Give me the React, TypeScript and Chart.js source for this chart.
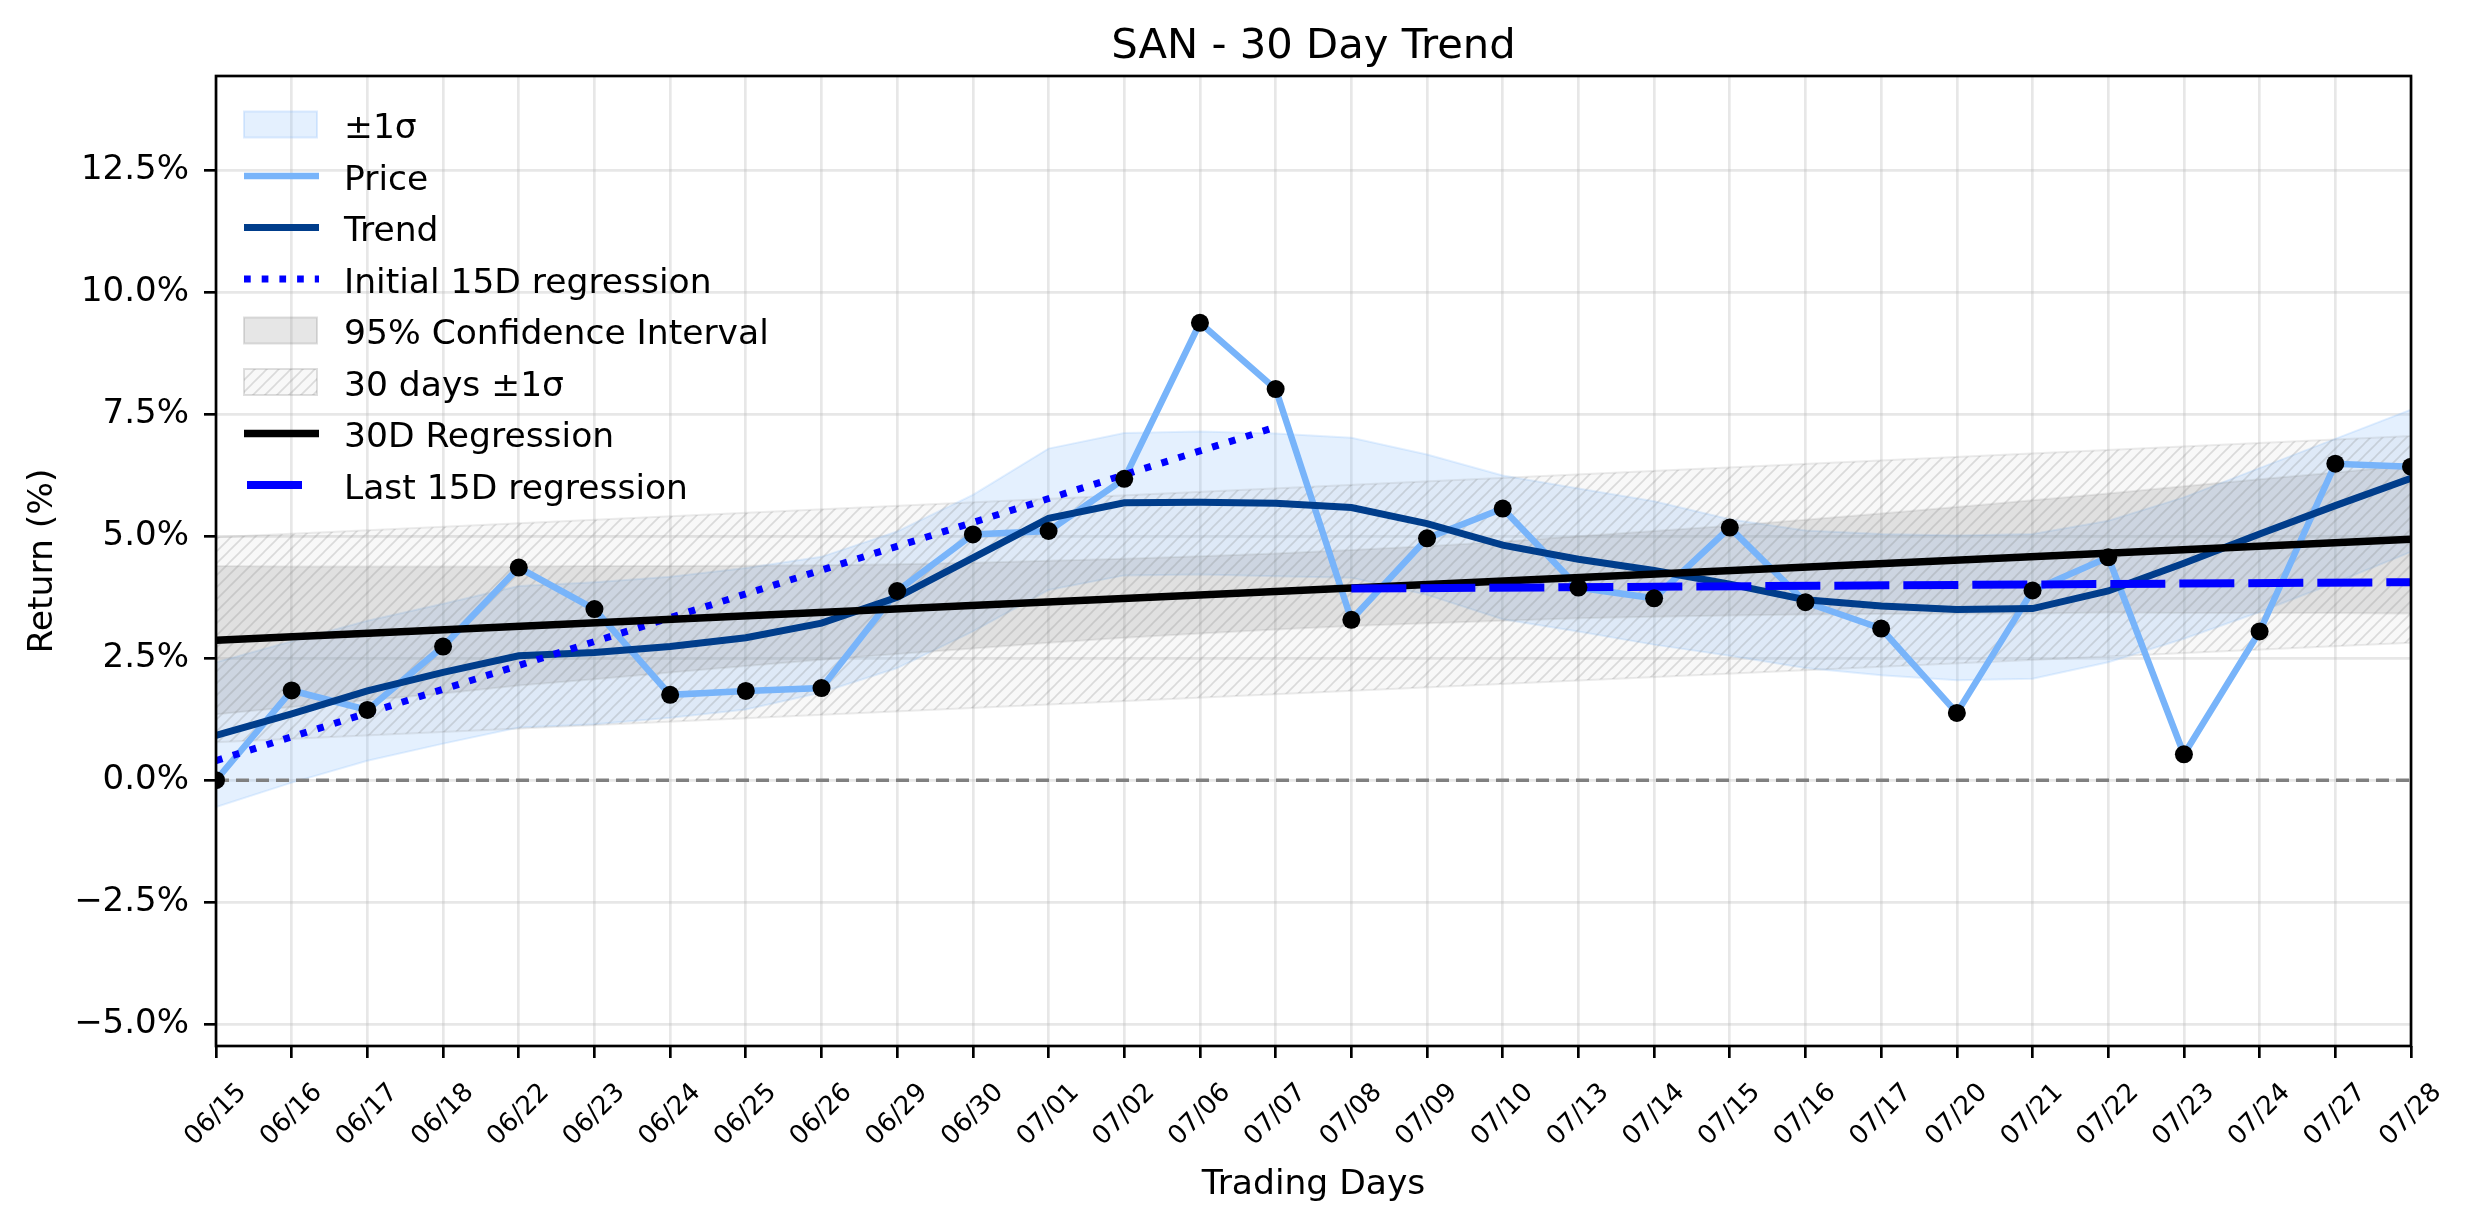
import React, { useEffect, useRef } from 'react';
import { Chart, registerables } from 'chart.js';

Chart.register(...registerables);

// ---------- data ----------
const dates = ['06/15', '06/16', '06/17', '06/18', '06/22', '06/23', '06/24', '06/25', '06/26', '06/29', '06/30', '07/01', '07/02', '07/06', '07/07', '07/08', '07/09', '07/10', '07/13', '07/14', '07/15', '07/16', '07/17', '07/20', '07/21', '07/22', '07/23', '07/24', '07/27', '07/28'];

const price = [0.0, 1.84, 1.44, 2.74, 4.36, 3.51, 1.75, 1.83, 1.89, 3.88, 5.04, 5.11, 6.18, 9.38, 8.02, 3.29, 4.96, 5.57, 3.95, 3.73, 5.18, 3.65, 3.11, 1.38, 3.89, 4.57, 0.53, 3.05, 6.49, 6.43];

const trend = [0.92, 1.36, 1.83, 2.21, 2.55, 2.62, 2.74, 2.92, 3.22, 3.75, 4.56, 5.37, 5.69, 5.70, 5.68, 5.59, 5.26, 4.82, 4.53, 4.30, 4.02, 3.70, 3.57, 3.50, 3.52, 3.88, 4.45, 5.05, 5.63, 6.19];

const sigmaUpper = [2.42, 2.85, 3.27, 3.62, 3.98, 4.06, 4.17, 4.35, 4.58, 5.10, 5.85, 6.80, 7.12, 7.15, 7.11, 7.02, 6.68, 6.25, 5.98, 5.72, 5.35, 5.12, 5.05, 5.02, 5.05, 5.32, 5.80, 6.40, 7.00, 7.60];
const sigmaLower = [-0.55, -0.05, 0.40, 0.75, 1.08, 1.15, 1.28, 1.45, 1.80, 2.30, 3.05, 3.90, 4.20, 4.22, 4.18, 4.15, 3.80, 3.30, 3.05, 2.78, 2.55, 2.30, 2.15, 2.05, 2.08, 2.42, 2.90, 3.45, 4.05, 4.68];

const ciUpper = [4.39, 4.38, 4.38, 4.38, 4.38, 4.39, 4.39, 4.40, 4.41, 4.43, 4.46, 4.50, 4.54, 4.59, 4.65, 4.72, 4.80, 4.89, 5.00, 5.11, 5.22, 5.34, 5.47, 5.60, 5.74, 5.88, 6.03, 6.17, 6.31, 6.46];
const ciLower = [1.35, 1.50, 1.64, 1.78, 1.94, 2.07, 2.21, 2.34, 2.47, 2.59, 2.70, 2.82, 2.92, 3.01, 3.09, 3.16, 3.22, 3.27, 3.32, 3.35, 3.38, 3.40, 3.41, 3.42, 3.42, 3.44, 3.43, 3.43, 3.43, 3.42];

// straight lines: [value at start date, value at end date]
const hatchUpper = [4.98, 7.06];   // 06/15 -> 07/28
const hatchLower = [0.78, 2.82];   // 06/15 -> 07/28
const reg30 = [2.87, 4.94];        // 06/15 -> 07/28
const initial15 = [0.40, 7.24];    // 06/15 -> 07/07
const last15 = [3.93, 4.06];       // 07/08 -> 07/28
const zeroLine = [0, 0];           // 06/15 -> 07/28

const yTicks = [-5, -2.5, 0, 2.5, 5, 7.5, 10, 12.5];
const yMin = -5.45;
const yMax = 14.44;

const titleText = 'SAN - 30 Day Trend';
const xTitle = 'Trading Days';
const yTitle = 'Return (%)';
const legendLabels = ['±1σ', 'Price', 'Trend', 'Initial 15D regression', '95% Confidence Interval', '30 days ±1σ', '30D Regression', 'Last 15D regression'];

// ---------- styles ----------
const FONT = '"DejaVu Sans", "Liberation Sans", sans-serif';
const PRICE_C = '#78b4fa';
const TREND_C = '#003d8b';
const SIGMA_FILL = 'rgba(122,180,250,0.2)';
const CI_FILL = 'rgba(128,128,128,0.2)';
const GRID_C = 'rgba(176,176,176,0.3)';

function seg(a: string, b: string, v: number[]) {
  return [{ x: a, y: v[0] }, { x: b, y: v[1] }];
}

function makeHatch(): CanvasPattern | string {
  const s = 12;
  const pc = document.createElement('canvas');
  pc.width = s;
  pc.height = s;
  const c = pc.getContext('2d');
  if (!c) return 'rgba(128,128,128,0.06)';
  c.fillStyle = 'rgba(128,128,128,0.06)';
  c.fillRect(0, 0, s, s);
  c.strokeStyle = 'rgba(128,128,128,0.25)';
  c.lineWidth = 1.6;
  c.beginPath();
  c.moveTo(0, s);
  c.lineTo(s, 0);
  c.moveTo(-2, 2);
  c.lineTo(2, -2);
  c.moveTo(s - 2, s + 2);
  c.lineTo(s + 2, s - 2);
  c.stroke();
  const p = c.createPattern(pc, 'repeat');
  return p || 'rgba(128,128,128,0.06)';
}

export default function App() {
  const ref = useRef<HTMLCanvasElement | null>(null);

  useEffect(() => {
    const canvas = ref.current;
    if (!canvas) return;
    const hatch = makeHatch();
    const first = dates[0];
    const last = dates[dates.length - 1];

    const decor = {
      id: 'decor',
      afterDatasetsDraw(chart: any) {
        const { ctx, chartArea: a } = chart;
        ctx.save();
        ctx.strokeStyle = '#000';
        ctx.lineWidth = 2.67;
        ctx.strokeRect(a.left, a.top, a.right - a.left, a.bottom - a.top);
        ctx.restore();
      },
      afterDraw(chart: any) {
        const { ctx, chartArea: a } = chart;
        const cx = (a.left + a.right) / 2;
        ctx.save();
        ctx.fillStyle = '#000';
        // title
        ctx.font = `41.7px ${FONT}`;
        ctx.textAlign = 'center';
        ctx.textBaseline = 'alphabetic';
        ctx.fillText(titleText, cx, a.top - 18);
        // x title
        ctx.font = `34.5px ${FONT}`;
        ctx.fillText(xTitle, cx, a.bottom + 148);
        // y title
        ctx.save();
        ctx.translate(52, (a.top + a.bottom) / 2);
        ctx.rotate(-Math.PI / 2);
        ctx.fillText(yTitle, 0, 0);
        ctx.restore();
        // x tick labels (rotated 45, centred on tick)
        const xs = chart.scales.x;
        ctx.font = `26px ${FONT}`;
        ctx.textBaseline = 'middle';
        dates.forEach((d, i) => {
          const x = xs.getPixelForValue(i);
          ctx.save();
          ctx.translate(x, a.bottom + 69);
          ctx.rotate(-Math.PI / 4);
          ctx.fillText(d, 0, 0);
          ctx.restore();
        });
        // legend
        const x0 = 244, x1 = 317, tx = 344, y0 = 124.5, dy = 51.5;
        legendLabels.forEach((lab, k) => {
          const y = y0 + dy * k;
          ctx.save();
          ctx.setLineDash([]);
          ctx.lineCap = 'butt';
          if (k === 0 || k === 4 || k === 5) {
            ctx.fillStyle = k === 0 ? SIGMA_FILL : k === 4 ? CI_FILL : hatch;
            ctx.fillRect(x0, y - 13, x1 - x0, 26);
            ctx.strokeStyle = k === 0 ? 'rgba(122,180,250,0.25)' : 'rgba(128,128,128,0.25)';
            ctx.lineWidth = 2;
            ctx.strokeRect(x0, y - 13, x1 - x0, 26);
          } else {
            ctx.beginPath();
            if (k === 1) { ctx.strokeStyle = PRICE_C; ctx.lineWidth = 6.5; }
            if (k === 2) { ctx.strokeStyle = TREND_C; ctx.lineWidth = 7; }
            if (k === 3) { ctx.strokeStyle = '#0000ff'; ctx.lineWidth = 7; ctx.setLineDash([6.7, 11]); }
            if (k === 6) { ctx.strokeStyle = '#000'; ctx.lineWidth = 7.5; }
            if (k === 7) { ctx.strokeStyle = '#0000ff'; ctx.lineWidth = 8; }
            if (k === 7) {
              ctx.moveTo(247, y);
              ctx.lineTo(302, y);
            } else {
              ctx.moveTo(x0, y);
              ctx.lineTo(x1 + 2, y);
            }
            ctx.stroke();
          }
          ctx.restore();
          ctx.fillStyle = '#000';
          ctx.font = `34.5px ${FONT}`;
          ctx.textAlign = 'left';
          ctx.textBaseline = 'alphabetic';
          ctx.fillText(lab, tx, y + 13.5);
        });
        ctx.restore();
      },
    };

    const band = (data: any, fill: any, bg: any, edge: string, order: number) => ({
      data,
      fill,
      backgroundColor: bg,
      borderColor: edge,
      borderWidth: 2,
      pointRadius: 0,
      order,
      clip: 0,
    });

    const chart = new Chart(canvas, {
      type: 'line',
      data: {
        labels: dates,
        datasets: [
          band(sigmaUpper, '+1', SIGMA_FILL, 'rgba(122,180,250,0.2)', 100),
          band(sigmaLower, false, 'transparent', 'rgba(122,180,250,0.2)', 99),
          band(ciUpper, '+1', CI_FILL, 'rgba(128,128,128,0.15)', 98),
          band(ciLower, false, 'transparent', 'rgba(128,128,128,0.15)', 97),
          band(seg(first, last, hatchUpper), '+1', hatch, 'rgba(128,128,128,0.15)', 96),
          band(seg(first, last, hatchLower), false, 'transparent', 'rgba(128,128,128,0.15)', 95),
          {
            data: seg(first, last, zeroLine), borderColor: '#808080', borderWidth: 3.4,
            borderDash: [13, 7], pointRadius: 0, fill: false, order: 90, clip: 0,
          },
          {
            data: price, borderColor: PRICE_C, borderWidth: 6.5, pointRadius: 0,
            fill: false, order: 50, clip: 0, tension: 0,
          },
          {
            data: trend, borderColor: TREND_C, borderWidth: 7, pointRadius: 0,
            fill: false, order: 40, clip: 0,
          },
          {
            data: seg(first, '07/07', initial15), borderColor: '#0000ff', borderWidth: 7,
            borderDash: [6.7, 11], pointRadius: 0, fill: false, order: 30, clip: 0,
          },
          {
            data: seg(first, last, reg30), borderColor: '#000000', borderWidth: 7.5,
            pointRadius: 0, fill: false, order: 20, clip: 0,
          },
          {
            data: seg('07/08', last, last15), borderColor: '#0000ff', borderWidth: 8,
            borderDash: [55, 14], pointRadius: 0, fill: false, order: 10, clip: 0,
          },
          {
            data: price, showLine: false, pointRadius: 9, pointBackgroundColor: '#000',
            pointBorderWidth: 0, borderColor: '#000', fill: false, order: 0, clip: 0,
          },
        ] as any,
      },
      options: {
        responsive: false,
        animation: false,
        devicePixelRatio: 1,
        events: [],
        layout: { padding: { left: 0, right: 63, top: 76, bottom: 0 } },
        plugins: {
          legend: { display: false },
          title: { display: false },
          tooltip: { enabled: false },
          filler: { propagate: false },
        },
        scales: {
          x: {
            type: 'category',
            offset: false,
            grid: {
              color: GRID_C, lineWidth: 2.67, tickColor: '#000', tickWidth: 2.67,
              tickLength: 12, offset: false, drawTicks: true,
            },
            border: { display: false },
            ticks: { display: false, autoSkip: false },
            afterFit: (s: any) => { s.height = 178; },
          },
          y: {
            min: yMin,
            max: yMax,
            grid: {
              color: GRID_C, lineWidth: 2.67, tickColor: '#000', tickWidth: 2.67,
              tickLength: 12, drawTicks: true,
            },
            border: { display: false },
            afterBuildTicks: (s: any) => { s.ticks = yTicks.map((v) => ({ value: v })); },
            ticks: {
              color: '#000',
              padding: 15,
              font: { family: FONT, size: 34 },
              callback: (v: any) => {
                const n = Number(v);
                const t = Math.abs(n).toFixed(1) + '%';
                return n < 0 ? '\u2212' + t : t;
              },
            },
            afterFit: (s: any) => { s.width = 216; },
          },
        },
      } as any,
      plugins: [decor],
    });

    return () => chart.destroy();
  }, []);

  return (
    <div style={{ position: 'fixed', left: 0, top: 0, width: 2474, height: 1224, background: '#fff' }}>
      <canvas ref={ref} width={2474} height={1224} style={{ display: 'block', width: 2474, height: 1224 }} />
    </div>
  );
}
